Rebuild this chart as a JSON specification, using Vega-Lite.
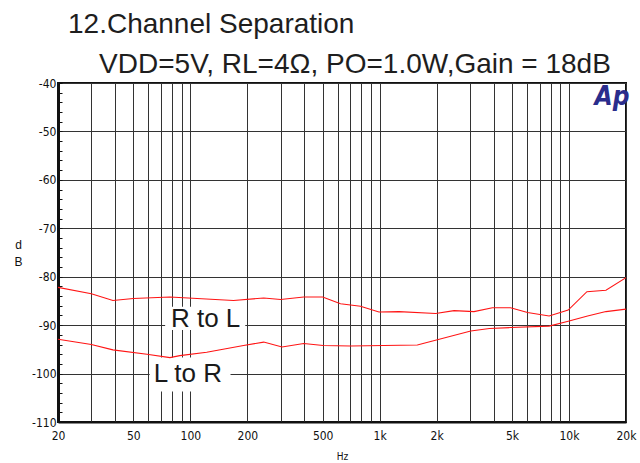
{
  "$schema": "https://vega.github.io/schema/vega-lite/v6.json",
  "width": 568,
  "height": 339,
  "autosize": {"type": "none"},
  "padding": {"left": 58, "top": 83, "right": 14, "bottom": 41},
  "background": "white",
  "title": {
    "text": ["12.Channel Separation", "\u200b\u00a0\u00a0\u00a0\u00a0VDD=5V, RL=4Ω, PO=1.0W,Gain = 18dB"],
    "anchor": "start",
    "frame": "group",
    "dx": 10,
    "offset": -2,
    "font": "Liberation Sans",
    "fontSize": 28,
    "fontWeight": "normal",
    "lineHeight": 40,
    "color": "#1e1e1e"
  },
  "config": {
    "view": {"stroke": "#111111", "strokeWidth": 2},
    "axis": {
      "labelFont": "Liberation Sans Narrow, DejaVu Sans Condensed, sans-serif",
      "titleFont": "Liberation Sans Narrow, DejaVu Sans Condensed, sans-serif",
      "labelColor": "#111111",
      "titleColor": "#111111",
      "titleFontWeight": "normal"
    }
  },
  "data": {
    "values": [
      {"f": 20, "db": -82.2, "series": "R to L"},
      {"f": 30, "db": -83.5, "series": "R to L"},
      {"f": 39, "db": -84.9, "series": "R to L"},
      {"f": 50, "db": -84.5, "series": "R to L"},
      {"f": 78, "db": -84.2, "series": "R to L"},
      {"f": 169, "db": -84.9, "series": "R to L"},
      {"f": 244, "db": -84.4, "series": "R to L"},
      {"f": 300, "db": -84.7, "series": "R to L"},
      {"f": 397, "db": -84.2, "series": "R to L"},
      {"f": 500, "db": -84.2, "series": "R to L"},
      {"f": 621, "db": -85.6, "series": "R to L"},
      {"f": 792, "db": -86.1, "series": "R to L"},
      {"f": 991, "db": -87.3, "series": "R to L"},
      {"f": 1263, "db": -87.2, "series": "R to L"},
      {"f": 1976, "db": -87.6, "series": "R to L"},
      {"f": 2471, "db": -87.0, "series": "R to L"},
      {"f": 3148, "db": -87.2, "series": "R to L"},
      {"f": 3940, "db": -86.4, "series": "R to L"},
      {"f": 4912, "db": -86.4, "series": "R to L"},
      {"f": 6040, "db": -87.4, "series": "R to L"},
      {"f": 7853, "db": -88.1, "series": "R to L"},
      {"f": 9902, "db": -86.9, "series": "R to L"},
      {"f": 12436, "db": -83.1, "series": "R to L"},
      {"f": 15670, "db": -82.8, "series": "R to L"},
      {"f": 20000, "db": -80.2, "series": "R to L"},
      {"f": 20, "db": -92.9, "series": "L to R"},
      {"f": 30, "db": -94.0, "series": "L to R"},
      {"f": 39, "db": -95.1, "series": "L to R"},
      {"f": 59, "db": -96.0, "series": "L to R"},
      {"f": 78, "db": -96.7, "series": "L to R"},
      {"f": 88, "db": -96.3, "series": "L to R"},
      {"f": 122, "db": -95.6, "series": "L to R"},
      {"f": 191, "db": -94.2, "series": "L to R"},
      {"f": 244, "db": -93.5, "series": "L to R"},
      {"f": 305, "db": -94.5, "series": "L to R"},
      {"f": 397, "db": -93.8, "series": "L to R"},
      {"f": 503, "db": -94.2, "series": "L to R"},
      {"f": 700, "db": -94.3, "series": "L to R"},
      {"f": 1581, "db": -94.1, "series": "L to R"},
      {"f": 3027, "db": -91.2, "series": "L to R"},
      {"f": 3800, "db": -90.7, "series": "L to R"},
      {"f": 4912, "db": -90.5, "series": "L to R"},
      {"f": 7853, "db": -90.2, "series": "L to R"},
      {"f": 9902, "db": -89.2, "series": "L to R"},
      {"f": 12536, "db": -88.1, "series": "L to R"},
      {"f": 15670, "db": -87.2, "series": "L to R"},
      {"f": 20000, "db": -86.7, "series": "L to R"}
    ]
  },
  "layer": [
    {
      "data": {"values": [{}]},
      "mark": {"type": "rect", "color": "white"},
      "encoding": {
        "x": {"datum": 73.6, "type": "quantitative"},
        "x2": {"datum": 195},
        "y": {"datum": -86.2, "type": "quantitative"},
        "y2": {"datum": -91.0}
      }
    },
    {
      "data": {"values": [{}]},
      "mark": {"type": "rect", "color": "white"},
      "encoding": {
        "x": {"datum": 61, "type": "quantitative"},
        "x2": {"datum": 163},
        "y": {"datum": -96.7, "type": "quantitative"},
        "y2": {"datum": -103.7}
      }
    },
    {
      "mark": {"type": "line", "strokeWidth": 1.1, "clip": true},
      "encoding": {
        "x": {
          "field": "f",
          "type": "quantitative",
          "scale": {"type": "log", "domain": [20, 20000], "nice": false},
          "axis": {
            "values": [20, 30, 40, 50, 60, 70, 80, 90, 100, 200, 300, 400, 500, 600, 700, 800, 900, 1000, 2000, 3000, 4000, 5000, 6000, 7000, 8000, 9000, 10000, 20000],
            "tickCount": 40,
            "labelExpr": "indexof([20,50,100,200,500],datum.value)>=0 ? ''+datum.value : (indexof([1000,2000,5000,10000,20000],datum.value)>=0 ? (datum.value/1000)+'k' : '')",
            "labelFontSize": 12,
            "labelPadding": 8,
            "labelFlush": false,
            "labelOverlap": false,
            "labelBound": false,
            "ticks": false,
            "grid": true,
            "gridColor": "#333333",
            "gridWidth": 1,
            "domain": true,
            "domainColor": "#111111",
            "domainWidth": 2,
            "title": "Hz",
            "titleFontSize": 10,
            "titlePadding": 10
          }
        },
        "y": {
          "field": "db",
          "type": "quantitative",
          "scale": {"domain": [-110, -40], "nice": false, "zero": false},
          "axis": {
            "orient": "left",
            "values": [-110, -108, -106, -104, -102, -100, -98, -96, -94, -92, -90, -88, -86, -84, -82, -80, -78, -76, -74, -72, -70, -68, -66, -64, -62, -60, -58, -56, -54, -52, -50, -48, -46, -44, -42, -40],
            "tickCount": 40,
            "labelExpr": "datum.value % 10 === 0 ? ''+datum.value : ''",
            "labelFontSize": 12,
            "labelPadding": 6,
            "labelFlush": false,
            "labelOverlap": false,
            "ticks": true,
            "tickSize": -4,
            "tickColor": "#111111",
            "tickWidth": 1,
            "grid": true,
            "gridColor": "#333333",
            "gridWidth": 1,
            "gridOpacity": {"expr": "datum.value % 10 === 0 ? 1 : 0"},
            "domain": true,
            "domainColor": "#111111",
            "domainWidth": 3,
            "title": ["d", "B"],
            "titleAngle": 0,
            "titleX": -40,
            "titleY": 161,
            "titleAlign": "center",
            "titleBaseline": "middle",
            "titleFont": "Liberation Sans",
            "titleFontSize": 12,
            "titleLineHeight": 17
          }
        },
        "color": {
          "field": "series",
          "type": "nominal",
          "scale": {"range": ["#ff1414", "#ff1414"]},
          "legend": null
        }
      }
    },
    {
      "data": {"values": [{}]},
      "mark": {"type": "text", "font": "Liberation Sans", "fontSize": 26, "align": "left", "baseline": "alphabetic", "color": "#1a1a1a"},
      "encoding": {
        "x": {"datum": 79, "type": "quantitative"},
        "y": {"datum": -90.3, "type": "quantitative"},
        "text": {"value": "R to L"}
      }
    },
    {
      "data": {"values": [{}]},
      "mark": {"type": "text", "font": "Liberation Sans", "fontSize": 26, "align": "left", "baseline": "alphabetic", "color": "#1a1a1a"},
      "encoding": {
        "x": {"datum": 64, "type": "quantitative"},
        "y": {"datum": -101.7, "type": "quantitative"},
        "text": {"value": "L to R"}
      }
    },
    {
      "data": {"values": [{}]},
      "mark": {"type": "text", "font": "Liberation Sans Narrow, DejaVu Sans Condensed, sans-serif", "fontSize": 26, "fontWeight": "bold", "fontStyle": "italic", "align": "center", "baseline": "alphabetic", "color": "#2a2d8c"},
      "encoding": {
        "x": {"datum": 16866, "type": "quantitative"},
        "y": {"datum": -44.5, "type": "quantitative"},
        "text": {"value": "Ap"}
      }
    }
  ]
}
